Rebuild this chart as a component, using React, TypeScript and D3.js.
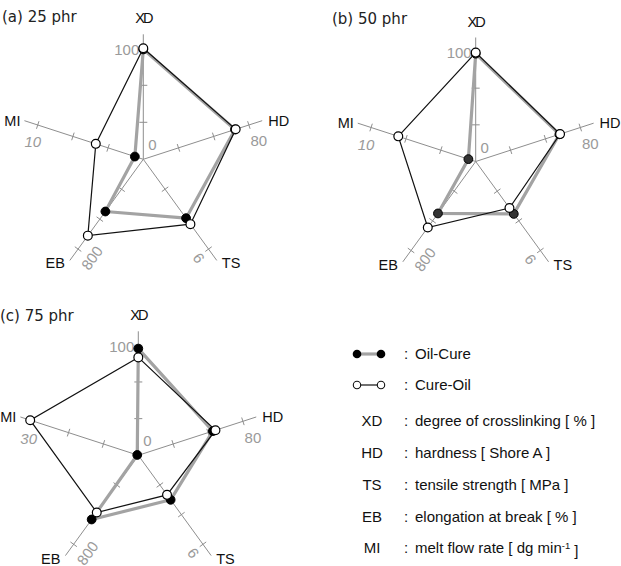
import React from 'react';
import * as d3 from 'd3';

const axisNames = ['XD', 'HD', 'TS', 'EB', 'MI'];
const panelTitles = ['(a) 25 phr', '(b) 50 phr', '(c) 75 phr'];

// outer end of each axis, per panel (XD, HD, TS, EB, MI)
const axisMax = [
  [100, 80, 9, 800, 10],
  [100, 80, 9, 800, 10],
  [100, 80, 9, 800, 30],
];

// Oil-Cure series per panel
const oilCure = [
  [99, 69.5, 5.9, 465, 0.8],
  [98, 64, 5.3, 467, 0.7],
  [97, 57, 4.5, 577, 0.3],
];

// Cure-Oil series per panel
const cureOil = [
  [100, 70, 6.5, 680, 4.5],
  [99, 64.5, 4.7, 593, 7.4],
  [89, 59, 4.0, 514, 31],
];

const seriesNames = ['Oil-Cure', 'Cure-Oil'];
const legendKeys = ['XD', 'HD', 'TS', 'EB', 'MI'];
const legendText = [
  'degree of crosslinking [ % ]',
  'hardness [ Shore A ]',
  'tensile strength [ MPa ]',
  'elongation at break [ % ]',
  'melt flow rate [ dg min',
];

const W = 621;
const H = 566;
const SANS = 'Arial, "Liberation Sans", sans-serif';
const AXIS_GREY = '#8e8e8e';
const LABEL_GREY = '#9a9a9a';
const STEP = (2 * Math.PI) / axisNames.length;

const panels = [
  { cx: 143.3, cy: 159.3, R: 111, tx: 2, ty: 22, dot: '#000' },
  { cx: 475.7, cy: 161.5, R: 110, tx: 332, ty: 24, dot: '#333' },
  { cx: 138.3, cy: 455.3, R: 110, tx: 0, ty: 321, dot: '#000' },
];

// where the max-value label sits relative to the end point of its axis
const maxLabelPlace = [
  { dx: -4, dy: 1, anchor: 'end', rot: 0, italic: false },
  { dx: 10, dy: 16, anchor: 'middle', rot: 0, italic: false },
  { dx: -10, dy: 9, anchor: 'middle', rot: 234, italic: false },
  { dx: 14, dy: 9, anchor: 'middle', rot: -54, italic: false },
  { dx: -5, dy: 17, anchor: 'middle', rot: 0, italic: true },
];

const polar = (r: number, i: number): [number, number] => [
  r * Math.sin(i * STEP),
  -r * Math.cos(i * STEP),
];

function Radar({ idx }: { idx: number }) {
  const { cx, cy, R, tx, ty, dot } = panels[idx];
  const scales = axisMax[idx].map((m) => d3.scaleLinear().domain([0, m]).range([0, R]));
  const ext = 14;

  const line = d3
    .lineRadial<number>()
    .angle((_, i) => i * STEP)
    .radius((d, i) => scales[i](d))
    .curve(d3.curveLinearClosed);

  const pts = (vals: number[]) => vals.map((v, i) => polar(scales[i](v), i));

  return (
    <g>
      <text x={tx} y={ty} fontFamily={'"DejaVu Sans", sans-serif'} fontSize={15} fill="#222">
        {panelTitles[idx]}
      </text>
      <g transform={`translate(${cx},${cy})`}>
        {axisNames.map((name, i) => {
          const [x2, y2] = polar(R + ext, i);
          const a = i * STEP;
          const ticks = d3.range(1, 4).map((k) => (axisMax[idx][i] * k) / 3);
          return (
            <g key={name}>
              <line x1={0} y1={0} x2={x2} y2={y2} stroke={AXIS_GREY} strokeWidth={1} />
              {ticks.map((t) => {
                const [px, py] = polar(scales[i](t), i);
                const ux = Math.cos(a) * 4;
                const uy = Math.sin(a) * 4;
                return (
                  <line key={t} x1={px - ux} y1={py - uy} x2={px + ux} y2={py + uy}
                    stroke={AXIS_GREY} strokeWidth={1} />
                );
              })}
            </g>
          );
        })}

        {/* max value labels and the zero mark */}
        <text x={9} y={-9} fontFamily={SANS} fontSize={15} fill={LABEL_GREY} textAnchor="middle">0</text>
        {axisNames.map((name, i) => {
          const [px, py] = polar(R, i);
          const p = maxLabelPlace[i];
          const x = px + p.dx;
          const y = py + p.dy;
          return (
            <text key={name} x={x} y={y} dy="0.35em" fontFamily={SANS} fontSize={15}
              fill={LABEL_GREY} textAnchor={p.anchor} fontStyle={p.italic ? 'italic' : 'normal'}
              transform={p.rot ? `rotate(${p.rot},${x},${y})` : undefined}>
              {d3.format('d')(axisMax[idx][i])}
            </text>
          );
        })}

        {/* axis names */}
        {axisNames.map((name, i) => {
          const [ex, ey] = polar(R + ext, i);
          let x = ex;
          let y = ey;
          let anchor = 'middle';
          if (i === 0) y = ey - 16;
          if (i === 1) { x = ex + 6; anchor = 'start'; }
          if (i === 2) { x = ex + 5; y = ey + 3; anchor = 'start'; }
          if (i === 3) { x = ex - 5; y = ey + 3; anchor = 'end'; }
          if (i === 4) { x = ex - 4; anchor = 'end'; }
          return (
            <text key={name} x={x} y={y} dy="0.35em" fontFamily={SANS} fontSize={14.5}
              textAnchor={anchor} fill="#111" letterSpacing={i === 0 ? -2 : 0}>
              {name}
            </text>
          );
        })}

        <path d={line(oilCure[idx]) || ''} fill="none" stroke="#a3a3a3" strokeWidth={3.2}
          strokeLinejoin="round" />
        <path d={line(cureOil[idx]) || ''} fill="none" stroke="#111" strokeWidth={1.2}
          strokeLinejoin="miter" />
        {pts(oilCure[idx]).map(([x, y], i) => (
          <circle key={`o${i}`} cx={x} cy={y} r={4.4} fill={dot} stroke="#000" strokeWidth={1} />
        ))}
        {pts(cureOil[idx]).map(([x, y], i) => (
          <circle key={`c${i}`} cx={x} cy={y} r={4.4} fill="#fff" stroke="#000" strokeWidth={1.2} />
        ))}
      </g>
    </g>
  );
}

function Legend() {
  const rowsY = d3.range(legendKeys.length).map((k) => 421 + k * 31.8);
  return (
    <g fontFamily={SANS} fontSize={15} fill="#111">
      {/* Oil-Cure */}
      <line x1={357} y1={354} x2={381} y2={354} stroke="#a3a3a3" strokeWidth={3.2} />
      <circle cx={357} cy={354} r={4.3} fill="#000" />
      <circle cx={381} cy={354} r={4.3} fill="#000" />
      <text x={404} y={354} dy="0.35em">:</text>
      <text x={415} y={354} dy="0.35em">{seriesNames[0]}</text>
      {/* Cure-Oil */}
      <line x1={357} y1={385} x2={381} y2={385} stroke="#111" strokeWidth={1.2} />
      <circle cx={357} cy={385} r={3.7} fill="#fff" stroke="#111" strokeWidth={1.1} />
      <circle cx={381} cy={385} r={3.7} fill="#fff" stroke="#111" strokeWidth={1.1} />
      <text x={404} y={385} dy="0.35em">:</text>
      <text x={415} y={385} dy="0.35em">{seriesNames[1]}</text>

      {legendKeys.map((k, i) => (
        <g key={k}>
          <text x={372} y={rowsY[i]} dy="0.35em" textAnchor="middle">{k}</text>
          <text x={404} y={rowsY[i]} dy="0.35em">:</text>
          <text x={415} y={rowsY[i]} dy="0.35em">
            {legendText[i]}
            {i === 4 && (
              <>
                <tspan dy="-0.45em" fontSize={9.5}>-1</tspan>
                <tspan dy="0.45em"> ]</tspan>
              </>
            )}
          </text>
        </g>
      ))}
    </g>
  );
}

export default function App() {
  return (
    <svg width={W} height={H} style={{ position: 'absolute', left: 0, top: 0, background: '#fff' }}>
      {panels.map((_, i) => (
        <Radar key={i} idx={i} />
      ))}
      <Legend />
    </svg>
  );
}
